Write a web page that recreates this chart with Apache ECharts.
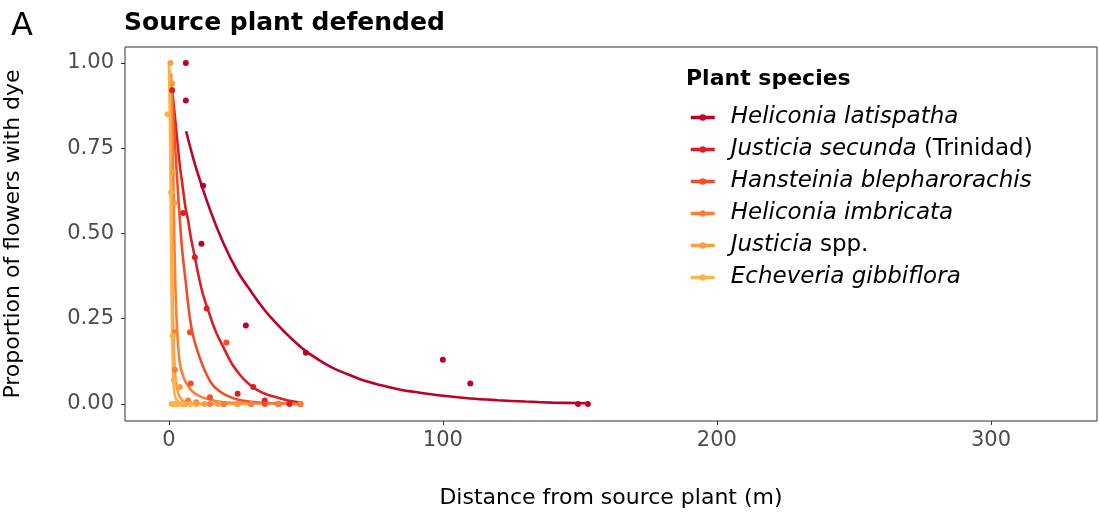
<!DOCTYPE html>
<html><head><meta charset="utf-8">
<script src="https://cdn.jsdelivr.net/npm/echarts@6/dist/echarts.min.js"></script>
<style>html,body{margin:0;padding:0;background:#fff}#c{width:1099px;height:515px}</style>
</head><body><div id="c"></div>
<script>
const species = ['Heliconia latispatha','Justicia secunda','Hansteinia blepharorachis','Heliconia imbricata','Justicia spp.','Echeveria gibbiflora'];
const colors = ['#BD0026','#DA2027','#F24D29','#FB7F34','#FD9D40','#FEB24C'];
const xTicks = [0,100,200,300];
const yTicks = [0,0.25,0.5,0.75,1];

// fitted curves
const hlCurveX = [6.3,10,15,20,25,30,35,40,45,50,55,60,65,70,75,80,85,90,95,100,110,120,130,140,153];
const hlCurveY = [0.80,0.69,0.57,0.47,0.39,0.33,0.275,0.23,0.19,0.155,0.128,0.105,0.088,0.072,0.06,0.05,0.041,0.035,0.029,0.024,0.016,0.011,0.007,0.004,0.002];
const jsCurveX = [1.2,2,3,4,5,6,7,8,9.5,11,12.5,14.3,17,19.8,23,26,29,32,36,40.5,44,47.8];
const jsCurveY = [0.92,0.86,0.78,0.70,0.64,0.58,0.54,0.49,0.43,0.37,0.32,0.276,0.215,0.168,0.118,0.085,0.06,0.042,0.027,0.017,0.009,0.004];
const hbCurveX = [1.2,2,2.8,4,5,6.2,7.7,9,11.3,13,15.6,18,21,25,30,36,42,47.8];
const hbCurveY = [0.93,0.80,0.69,0.54,0.44,0.355,0.25,0.195,0.135,0.10,0.06,0.04,0.025,0.013,0.006,0.003,0.001,0.0];
const hiCurveX = [0.8,1,1.3,1.6,2.2,3,4,5.5,7.7,10,13.8,20,30,40,48];
const hiCurveY = [0.97,0.90,0.80,0.69,0.40,0.22,0.12,0.075,0.045,0.028,0.015,0.005,0.002,0.001,0.0];
const jspCurveX = [0.3,0.7,1.0,1.4,1.8,2.2,3,4,6,10,20,30];
const jspCurveY = [0.98,0.75,0.50,0.30,0.17,0.10,0.045,0.02,0.006,0.001,0,0];
const egCurveX = [0,0.3,0.6,0.9,1.2,1.6,2,3,5,10,15];
const egCurveY = [1.0,0.88,0.65,0.38,0.2,0.08,0.035,0.01,0.002,0,0];

// observed points
const hlPtsX = [6.2,6.2,12.5,11.9,28.1,50,100,110,149.3,152.9];
const hlPtsY = [1.0,0.89,0.64,0.47,0.23,0.15,0.13,0.06,0,0];
const jsPtsX = [1.2,5.2,9.5,13.8,30.8,25.1,35,40,44,48];
const jsPtsY = [0.92,0.56,0.43,0.28,0.05,0.03,0.01,0,0,0];
const hbPtsX = [7.7,21,8,15,20,25,30,35,40,48];
const hbPtsY = [0.21,0.18,0.06,0.02,0,0,0,0,0,0];
const hiPtsX = [2.2,2.2,7,5,10,15,20,30,40,48];
const hiPtsY = [0.21,0.1,0.01,0,0.005,0,0,0,0,0];
const jspPtsX = [0.6,1.2,1.5,2,4,3,6,10,13,18,25];
const jspPtsY = [1.0,0.94,0.68,0.59,0.05,0,0,0,0,0,0];
const egPtsX = [-0.5,0.8,1.4,1.8,1,2,3,5,8];
const egPtsY = [0.85,0.62,0.2,0.07,0,0,0,0,0];

const curves = [[hlCurveX,hlCurveY],[jsCurveX,jsCurveY],[hbCurveX,hbCurveY],[hiCurveX,hiCurveY],[jspCurveX,jspCurveY],[egCurveX,egCurveY]];
const points = [[hlPtsX,hlPtsY],[jsPtsX,jsPtsY],[hbPtsX,hbPtsY],[hiPtsX,hiPtsY],[jspPtsX,jspPtsY],[egPtsX,egPtsY]];
const zip = (a,b) => a.map((v,i)=>[v,b[i]]);

const FONT = '"DejaVu Sans", sans-serif';
const series = [];
species.forEach((s,i)=>{
  series.push({name:s,type:'line',data:zip(curves[i][0],curves[i][1]),smooth:0.35,
    showSymbol:false,symbol:'circle',symbolSize:4,lineStyle:{width:2.6,color:colors[i]},itemStyle:{color:colors[i]},z:3});
});
species.forEach((s,i)=>{
  series.push({name:s,type:'scatter',data:zip(points[i][0],points[i][1]),symbolSize:6,itemStyle:{color:colors[i],opacity:1},z:4});
});

const legendText = {
  'Heliconia latispatha':'{i|Heliconia latispatha}',
  'Justicia secunda':'{i|Justicia secunda} {n|(Trinidad)}',
  'Hansteinia blepharorachis':'{i|Hansteinia blepharorachis}',
  'Heliconia imbricata':'{i|Heliconia imbricata}',
  'Justicia spp.':'{i|Justicia} {n|spp.}',
  'Echeveria gibbiflora':'{i|Echeveria gibbiflora}'
};

const chart = echarts.init(document.getElementById('c'),null,{renderer:'canvas'});
chart.setOption({
  animation:false,
  backgroundColor:'#fff',
  title:{text:'Source plant defended',left:119,top:6,textStyle:{fontFamily:FONT,fontSize:25,fontWeight:'bold',color:'#000'}},
  graphic:[
    {type:'text',left:11,top:11,style:{text:'A',font:'32px '+FONT,fill:'#000'}},
    {type:'text',left:686,top:68,style:{text:'Plant species',font:'bold 22px '+FONT,fill:'#000'}}
  ],
  legend:{
    data:species,orient:'vertical',left:689,top:106,padding:0,itemWidth:24,itemHeight:8,itemGap:9,
    lineStyle:{width:3.5},
    formatter:n=>legendText[n],
    textStyle:{fontFamily:FONT,fontSize:23,color:'#000',padding:[0,0,0,11],lineHeight:23,
      rich:{i:{fontStyle:'italic',fontSize:23,fontFamily:FONT,color:'#000',lineHeight:23},
            n:{fontSize:23,fontFamily:FONT,color:'#000',lineHeight:23}}}
  },
  grid:{left:125,right:2,top:47,bottom:94,show:true,borderColor:'#333',borderWidth:1,backgroundColor:'#fff',containLabel:false,outerBoundsMode:'none'},
  xAxis:{type:'value',min:-16,max:338.7,
    name:'Distance from source plant (m)',nameLocation:'middle',nameGap:66,
    nameTextStyle:{fontFamily:FONT,fontSize:22,color:'#000'},
    axisLine:{show:false,onZero:false},splitLine:{show:false},
    axisTick:{show:true,length:4,lineStyle:{color:'#333'},customValues:xTicks},
    axisLabel:{fontFamily:FONT,fontSize:21,color:'#4D4D4D',margin:9,customValues:xTicks}},
  yAxis:{type:'value',min:-0.05,max:1.047,
    name:'Proportion of flowers with dye',nameLocation:'middle',nameGap:101,
    nameTextStyle:{fontFamily:FONT,fontSize:22,color:'#000'},
    axisLine:{show:false,onZero:false},splitLine:{show:false},
    axisTick:{show:true,length:4,lineStyle:{color:'#333'},customValues:yTicks},
    axisLabel:{fontFamily:FONT,fontSize:21,color:'#4D4D4D',margin:11,customValues:yTicks,formatter:v=>v.toFixed(2)}},
  series:series
});
</script></body></html>
